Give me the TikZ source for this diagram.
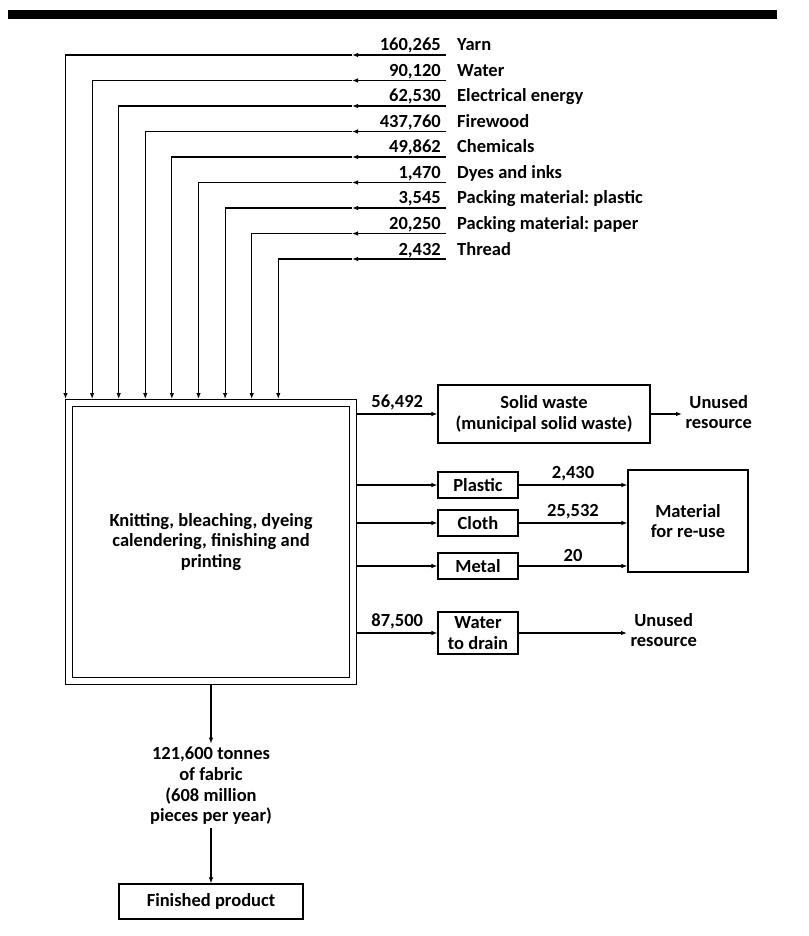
\documentclass[tikz,border=0pt]{standalone}
\usepackage{fontspec}
\setmainfont{Carlito}
\usetikzlibrary{arrows.meta,positioning,calc}
\frenchspacing

\begin{document}
\begin{tikzpicture}[x=1pt, y=-1pt,
  every node/.style={font=\fontsize{18.5}{20.7}\selectfont\bfseries},
  flow/.style={line width=1.1pt, -{Latex[length=6pt,width=4.5pt]}},
  box/.style={draw, line width=1.1pt, align=center, inner sep=1.5pt},
  procbox/.style={draw, line width=1.4pt, double, double distance=5.5pt,
                  outer sep=4.15pt, align=center},
  lbl/.style={align=center},
  num/.style={inner sep=0pt}
]
  \useasboundingbox (0,0) rectangle (808,936);
  % heading bar
  \fill (8,10) rectangle (777,19);

  % Process
  \node[procbox, minimum width=283.7pt, minimum height=277.7pt] (proc) at (211,542)
    {Knitting, bleaching, dyeing\\calendering, finishing and\\printing};

  % Inputs
  \foreach \num/\what [count=\i] in {{160,265}/Yarn, {90,120}/Water,
      {62,530}/Electrical energy, {437,760}/Firewood, {49,862}/Chemicals,
      {1,470}/Dyes and inks, {3,545}/Packing material: plastic,
      {20,250}/Packing material: paper, {2,432}/Thread}{
    \pgfmathsetmacro\ly{55+25.5*(\i-1)}
    \pgfmathsetmacro\lx{65.5+26.6*(\i-1)}
    \coordinate (in\i) at (446,\ly);
    \coordinate (mid\i) at (352,\ly);
    \coordinate (top\i) at (\lx,399);
    \node[num, anchor=base east] (n\i) at (441,{\ly-4}) {\num};
    \node[num, anchor=base west] (l\i) at (457,{\ly-4}) {\what};
    \draw[flow] (in\i) -- (mid\i);
    \draw[flow] (mid\i) -| (top\i);
  }

  % Outputs
  \node[box, minimum width=212pt, minimum height=58pt] (sw) at (544,414)
    {Solid waste\\(municipal solid waste)};
  \node[lbl, anchor=west] (ur1) at (682,412) {Unused\\resource};
  \node[box, minimum width=80pt, minimum height=26pt] (pl) at (478,485) {Plastic};
  \node[box, minimum width=80pt, minimum height=26pt] (cl) at (478,523) {Cloth};
  \node[box, minimum width=80pt, minimum height=26pt] (mt) at (478,566) {Metal};
  \node[box, minimum width=120pt, minimum height=102pt] (mat) at (688,521)
    {Material\\for re-use};
  \node[box, minimum width=80pt, minimum height=42pt] (wd) at (478,633)
    {Water\\to drain};
  \node[lbl, anchor=west] (ur2) at (627,630) {Unused\\resource};

  \draw[flow] (proc.east |- sw.west) -- node[above] {56,492} (sw.west);
  \draw[flow] (sw.east) -- (sw.east -| ur1.west);
  \draw[flow] (proc.east |- pl.west) -- (pl.west);
  \draw[flow] (proc.east |- cl.west) -- (cl.west);
  \draw[flow] (proc.east |- mt.west) -- (mt.west);
  \draw[flow] (pl.east) -- node[above] {2,430} (pl.east -| mat.west);
  \draw[flow] (cl.east) -- node[above] {25,532} (cl.east -| mat.west);
  \draw[flow] (mt.east) -- node[above] {20} (mt.east -| mat.west);
  \draw[flow] (proc.east |- wd.west) -- node[above] {87,500} (wd.west);
  \draw[flow] (wd.east) -- (wd.east -| ur2.west);

  % Product
  \node[lbl] (fab) at (211,786)
    {121,600 tonnes\\of fabric\\(608 million\\pieces per year)};
  \node[box, minimum width=184pt, minimum height=35pt] (fin) at (211,901.5)
    {Finished product};
  \draw[flow] (proc.south) -- (fab.north);
  \draw[flow] (fab.south) -- (fin.north);
\end{tikzpicture}
\end{document}
